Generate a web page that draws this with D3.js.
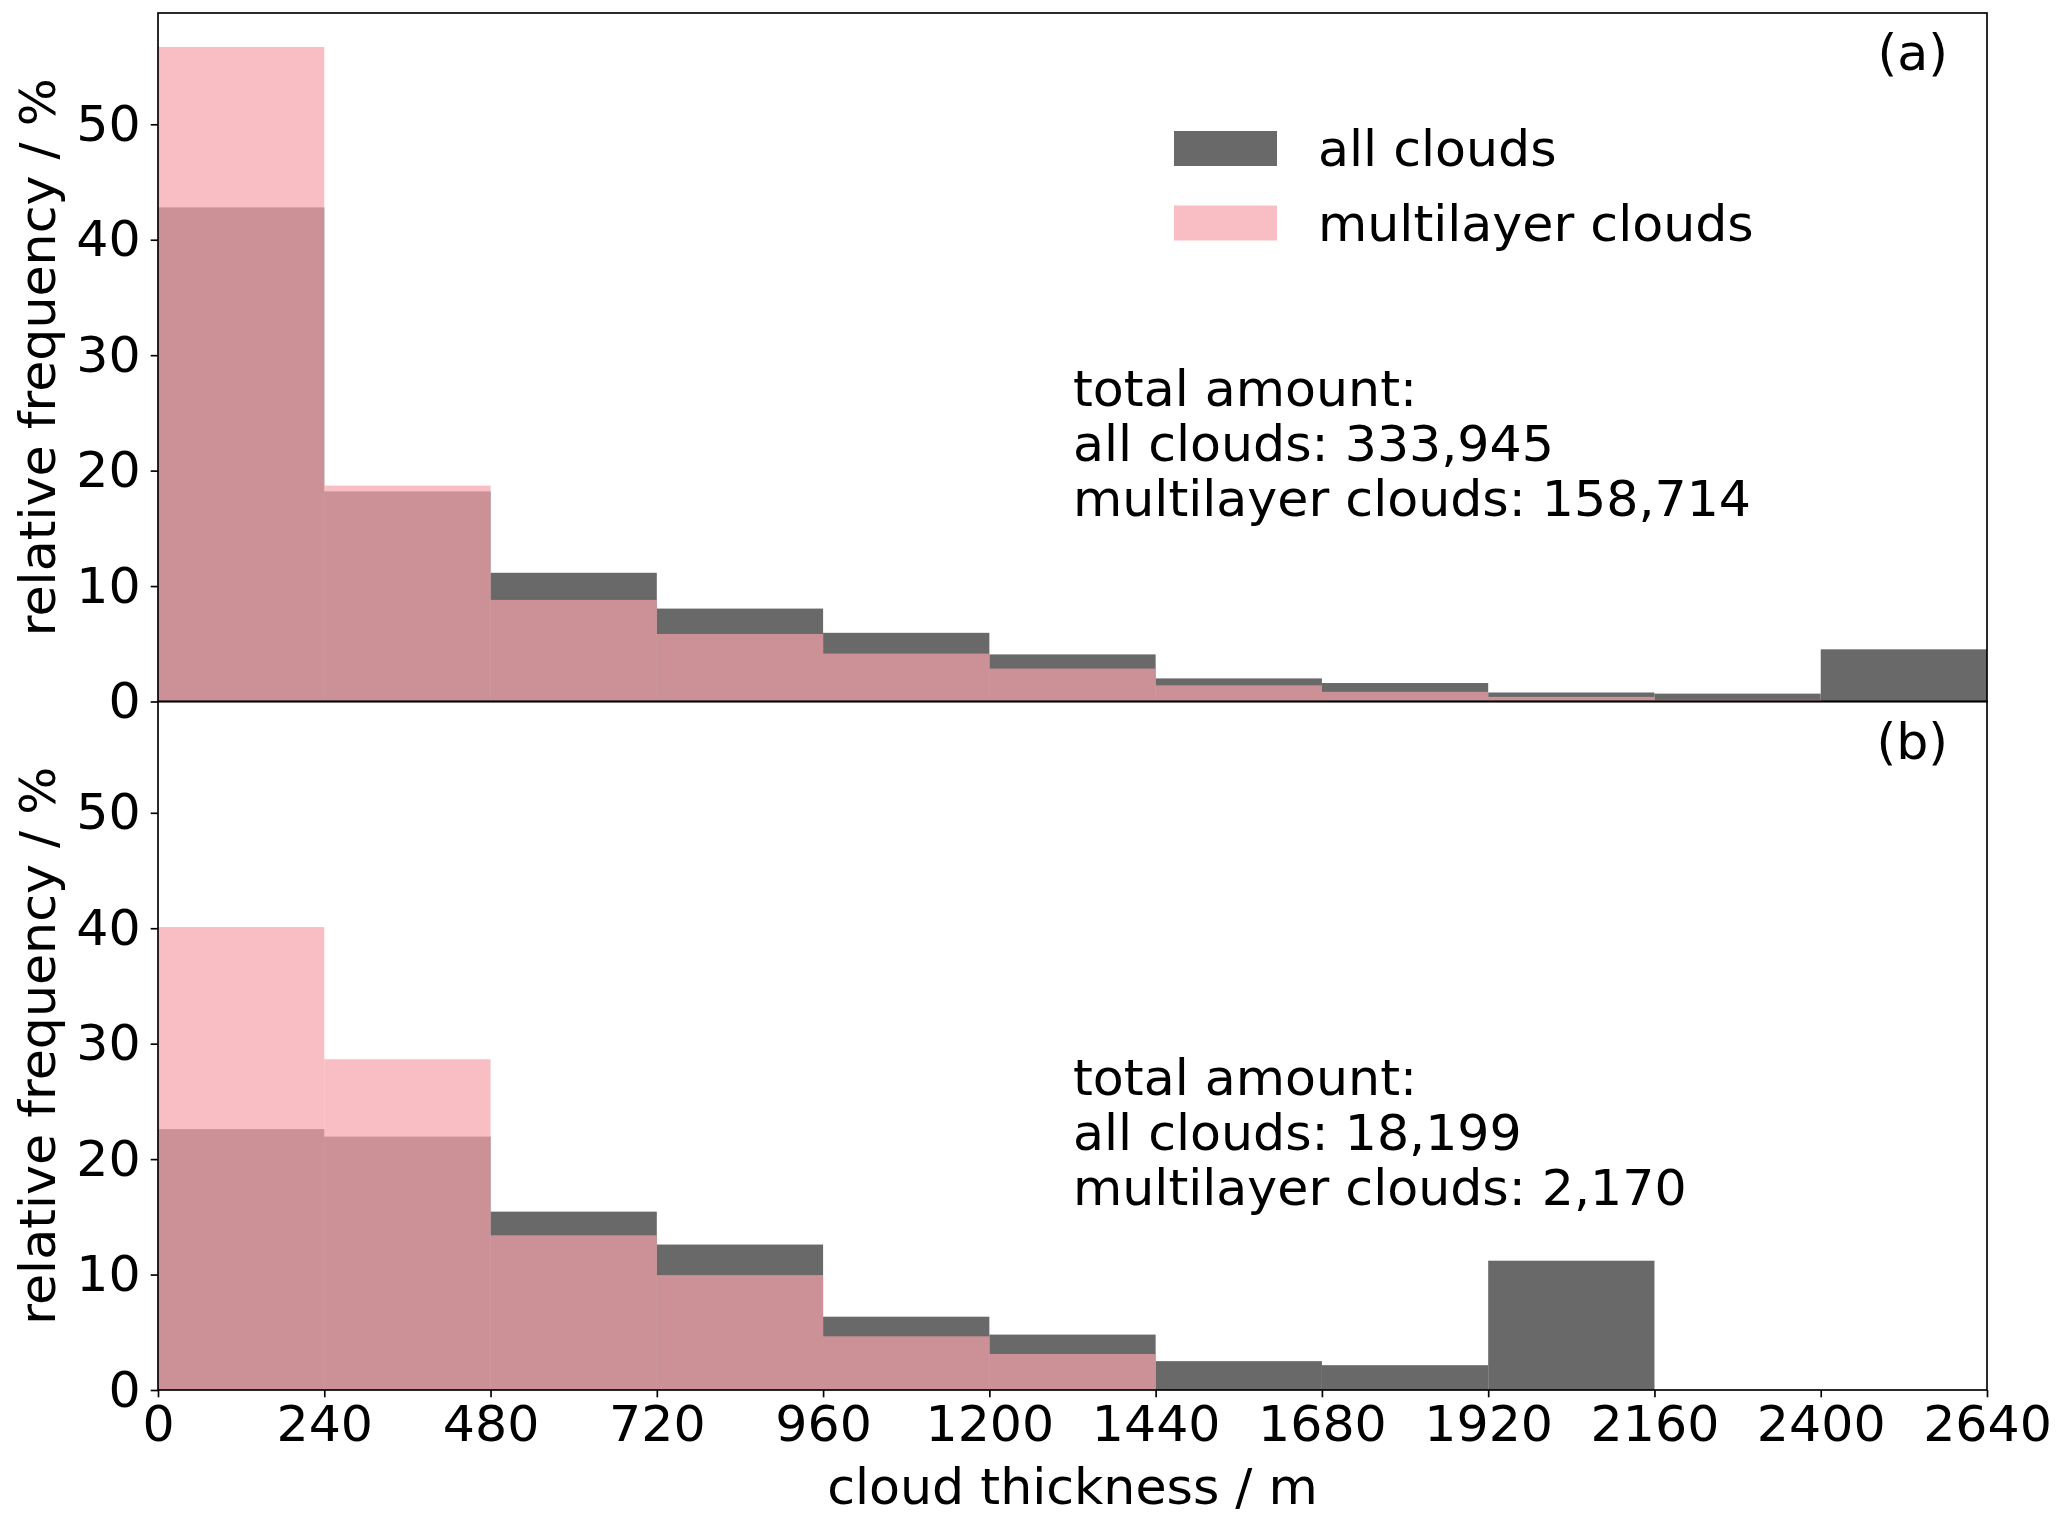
<!DOCTYPE html>
<html>
<head>
<meta charset="utf-8">
<script src="https://cdn.jsdelivr.net/npm/d3@7"></script>
<style>
  html, body { margin: 0; padding: 0; background: #ffffff; }
  svg { display: block; font-family: "DejaVu Sans", sans-serif; }
</style>
</head>
<body>
<svg id="chart" width="2067" height="1520"></svg>
<script>
// ---- data ----
const binEdges = [0, 240, 480, 720, 960, 1200, 1440, 1680, 1920, 2160, 2400, 2640];
const xTickLabels = ["0", "240", "480", "720", "960", "1200", "1440", "1680", "1920", "2160", "2400", "2640"];
const yTicks = [0, 10, 20, 30, 40, 50];

const allCloudsA = [42.8, 18.2, 11.15, 8.05, 5.95, 4.08, 2.0, 1.6, 0.78, 0.68, 4.52];
const multiCloudsA = [56.7, 18.7, 8.8, 5.85, 4.15, 2.85, 1.4, 0.84, 0.4, 0.14, 0];
const allCloudsB = [22.6, 21.95, 15.45, 12.6, 6.35, 4.8, 2.5, 2.15, 11.2, 0, 0];
const multiCloudsB = [40.1, 28.65, 13.4, 9.95, 4.65, 3.12, 0, 0, 0, 0, 0];

const panelLabels = ["(a)", "(b)"];
const totalsA = ["total amount:", "all clouds: 333,945", "multilayer clouds: 158,714"];
const totalsB = ["total amount:", "all clouds: 18,199", "multilayer clouds: 2,170"];
const legendLabels = ["all clouds", "multilayer clouds"];

// ---- layout ----
const svg = d3.select("#chart");
const FS = 50.6;
const left = 158, right = 1987;
const panels = [
  { top: 13, bottom: 701.5, all: allCloudsA, multi: multiCloudsA, label: panelLabels[0], totals: totalsA, legend: true, xlabels: false },
  { top: 701.5, bottom: 1390, all: allCloudsB, multi: multiCloudsB, label: panelLabels[1], totals: totalsB, legend: false, xlabels: true }
];
const yMax = 59.64;
const grayColor = "#696969";
const pinkColor = "rgb(246,162,169)";
const pinkAlpha = 0.7;

const x = d3.scaleLinear().domain([0, 2640]).range([left, right]);

panels.forEach((p, pi) => {
  const y = d3.scaleLinear().domain([0, yMax]).range([p.bottom, p.top]);
  const g = svg.append("g");

  const bins = binEdges.slice(0, -1).map((e, i) => ({ x0: e, x1: binEdges[i + 1], a: p.all[i], m: p.multi[i] }));

  g.selectAll("rect.all").data(bins.filter(d => d.a > 0)).join("rect")
    .attr("class", "all")
    .attr("x", d => x(d.x0)).attr("width", d => x(d.x1) - x(d.x0))
    .attr("y", d => y(d.a)).attr("height", d => y(0) - y(d.a))
    .attr("fill", grayColor);

  g.selectAll("rect.multi").data(bins.filter(d => d.m > 0)).join("rect")
    .attr("class", "multi")
    .attr("x", d => x(d.x0)).attr("width", d => x(d.x1) - x(d.x0))
    .attr("y", d => y(d.m)).attr("height", d => y(0) - y(d.m))
    .attr("fill", pinkColor).attr("fill-opacity", pinkAlpha);

  // y axis
  const yAxis = d3.axisLeft(y).tickValues(yTicks).tickSize(7.3).tickPadding(10).tickFormat(d3.format("d"));
  const ya = g.append("g").attr("transform", `translate(${left},0)`).call(yAxis);
  ya.select(".domain").remove();
  ya.selectAll(".tick line").attr("stroke", "#000").attr("stroke-width", 1.67);
  ya.selectAll(".tick text").attr("font-size", FS).attr("fill", "#000").attr("font-family", "DejaVu Sans");

  // x axis (bottom panel only labels)
  if (p.xlabels) {
    const xAxis = d3.axisBottom(x).tickValues(binEdges).tickSize(7.3).tickPadding(7.3)
      .tickFormat((d, i) => xTickLabels[i]);
    const xa = g.append("g").attr("transform", `translate(0,${p.bottom})`).call(xAxis);
    xa.select(".domain").remove();
    xa.selectAll(".tick line").attr("stroke", "#000").attr("stroke-width", 1.67);
    xa.selectAll(".tick text").attr("font-size", FS).attr("fill", "#000").attr("font-family", "DejaVu Sans");
  }

  // frame
  g.append("rect").attr("x", left).attr("y", p.top).attr("width", right - left).attr("height", p.bottom - p.top)
    .attr("fill", "none").attr("stroke", "#000").attr("stroke-width", 1.67);

  // y label
  g.append("text")
    .attr("transform", `translate(55,${(p.top + p.bottom) / 2}) rotate(-90)`)
    .attr("text-anchor", "middle")
    .attr("font-size", FS).attr("fill", "#000")
    .text("relative frequency / %");

  // panel label
  g.append("text").attr("x", 1948).attr("y", p.top + 57).attr("text-anchor", "end")
    .attr("font-size", FS).attr("fill", "#000").text(p.label);

  // totals
  const t = g.append("text").attr("x", 1073).attr("y", p.top + 393).attr("font-size", FS).attr("fill", "#000");
  p.totals.forEach((line, i) => {
    t.append("tspan").attr("x", 1073).attr("dy", i === 0 ? 0 : 55).text(line);
  });

  // legend
  if (p.legend) {
    const colors = [{ c: grayColor, o: 1 }, { c: pinkColor, o: pinkAlpha }];
    legendLabels.forEach((lab, i) => {
      const yTop = 131 + i * 74.5;
      g.append("rect").attr("x", 1174).attr("y", yTop).attr("width", 103).attr("height", 35)
        .attr("fill", colors[i].c).attr("fill-opacity", colors[i].o);
      g.append("text").attr("x", 1318).attr("y", yTop + 35).attr("font-size", FS).attr("fill", "#000").text(lab);
    });
  }
});

// x label
svg.append("text").attr("x", (left + right) / 2).attr("y", 1504).attr("text-anchor", "middle")
  .attr("font-size", FS).attr("fill", "#000").text("cloud thickness / m");
</script>
</body>
</html>
